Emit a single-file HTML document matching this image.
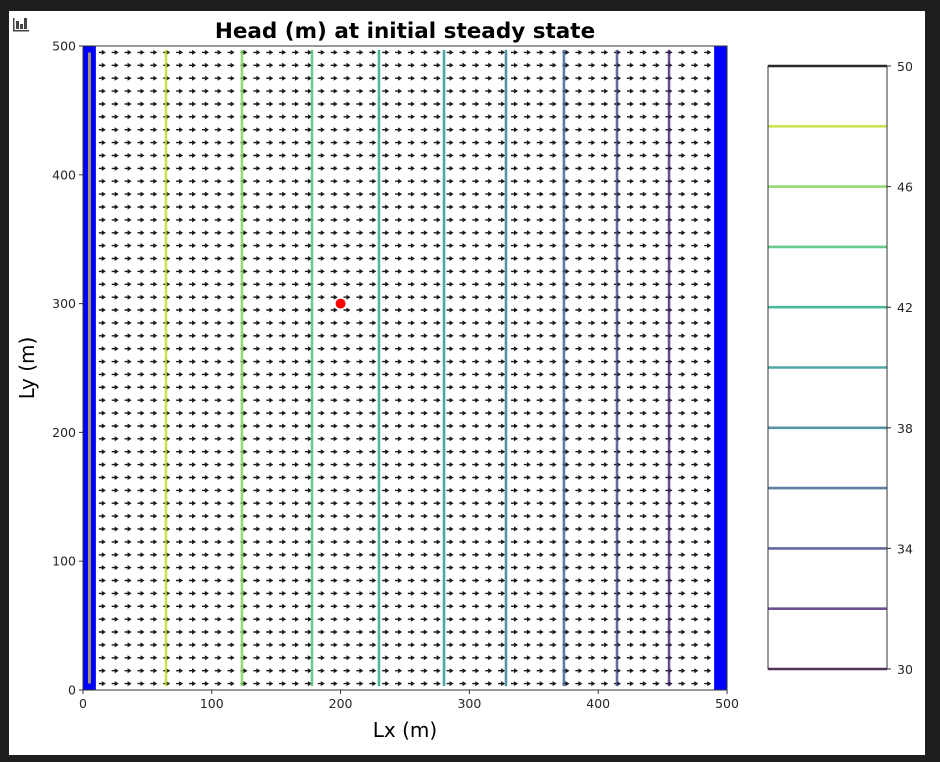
<!DOCTYPE html>
<html><head><meta charset="utf-8">
<style>
html,body{margin:0;padding:0;background:#1e1e1e;}
svg{display:block;font-family:"DejaVu Sans","Liberation Sans",sans-serif;}
</style></head>
<body>
<svg id="chart" width="940" height="762" viewBox="0 0 940 762">
<rect x="0" y="0" width="940" height="762" fill="#1e1e1e"/>
<rect x="9" y="11" width="916" height="744" fill="#ffffff"/>
<g fill="#444">
<rect x="13" y="18" width="1.5" height="13"/><rect x="13" y="30" width="16" height="1.5"/>
<rect x="16" y="21" width="3" height="8"/><rect x="20" y="24" width="3" height="5"/><rect x="24" y="18" width="3" height="11"/>
</g>
<text x="405" y="38" text-anchor="middle" font-size="21.5" font-weight="bold" fill="#000">Head (m) at initial steady state</text>
<g id="plot"></g>
<g id="cbar"></g>
<text x="405" y="737" text-anchor="middle" font-size="20" fill="#000">Lx (m)</text>
<text x="0" y="0" transform="translate(34,368) rotate(-90)" text-anchor="middle" font-size="20" fill="#000">Ly (m)</text>
</svg>
<script>
const xTicks=[0,100,200,300,400,500];
const yTicks=[0,100,200,300,400,500];
const levels=[32,34,36,38,40,42,44,46,48];
const contourX=[455,414.6,373.4,328.4,280.3,229.8,177.8,123.4,64.4];
const cbarLevels=[30,32,34,36,38,40,42,44,46,48,50];
const cbarTicks=[30,34,38,42,46,50];
const wellPoint=[200,300];
const nCols=50, nRows=50, cellSize=10;
const flowU=1; // uniform eastward flow

const NS="http://www.w3.org/2000/svg";
const X0=83,X1=727,Y0=690,Y1=46;
const sx=v=>X0+(v-0)/500*(X1-X0);
const sy=v=>Y0-(v-0)/500*(Y0-Y1);
const CB={x0:768,x1:887,y0:669,y1:66,vmin:30,vmax:50};
const cby=v=>CB.y0-(v-CB.vmin)/(CB.vmax-CB.vmin)*(CB.y0-CB.y1);
const vir=["#440154","#482475","#414487","#355f8d","#2a788e","#21918c","#22a884","#44bf70","#7ad151","#bddf26","#fde725"];
const color=v=>vir[Math.max(0,Math.min(10,Math.round((v-30)/2)))];
function el(tag,attrs,parent){const e=document.createElementNS(NS,tag);for(const k in attrs)e.setAttribute(k,attrs[k]);parent.appendChild(e);return e;}
const plot=document.getElementById('plot');
const cbar=document.getElementById('cbar');

let b1=el('rect',{x:sx(0),y:Y1,width:sx(10)-sx(0),height:Y0-Y1,fill:'#0000ff'},plot);


let b2=el('rect',{x:sx(490),y:Y1,width:sx(500)-sx(490),height:Y0-Y1,fill:'#0000ff'},plot);



let q=el('g',{fill:'#1a1a1a'},plot);


let d="";
for(let c=1;c<nCols-1;c++){for(let r=0;r<nRows;r++){
  const cx=sx((c+0.5)*cellSize), cy=sy((r+0.5)*cellSize);
  const L=7*flowU;
  const xs=cx-L/2, xe=cx+L/2;
  d+=`M${xs.toFixed(1)} ${(cy-0.7).toFixed(1)}H${(xe-4).toFixed(1)}V${(cy-2.5).toFixed(1)}L${xe.toFixed(1)} ${cy.toFixed(1)}L${(xe-4).toFixed(1)} ${(cy+2.5).toFixed(1)}V${(cy+0.7).toFixed(1)}H${xs.toFixed(1)}Z`;
}}
let qp=el('path',{d:d,stroke:'none'},q);



let tan=el('line',{x1:sx(5),x2:sx(5),y1:sy(495),y2:sy(5),stroke:'#a89470','stroke-width':3},plot);


levels.forEach((lv,i)=>{
  let l=el('line',{x1:sx(contourX[i]),x2:sx(contourX[i]),y1:sy(497),y2:sy(3),stroke:color(lv),'stroke-width':2.6,'stroke-opacity':0.8},plot);
  
  
});

let w=el('circle',{cx:sx(wellPoint[0]),cy:sy(wellPoint[1]),r:5,fill:'#ff0000'},plot);



let fr=el('rect',{x:X0,y:Y1,width:X1-X0,height:Y0-Y1,fill:'none',stroke:'#333','stroke-width':1},plot);


xTicks.forEach(t=>{
  el('line',{x1:sx(t),x2:sx(t),y1:Y0,y2:Y0+4,stroke:'#333'},plot);
  let tx=el('text',{x:sx(t),y:Y0+18,'text-anchor':'middle','font-size':12.5,fill:'#262626'},plot);
  tx.textContent=t;
  
  
});
yTicks.forEach(t=>{
  el('line',{x1:X0-4,x2:X0,y1:sy(t),y2:sy(t),stroke:'#333'},plot);
  let tx=el('text',{x:X0-7,y:sy(t)+4.5,'text-anchor':'end','font-size':12.5,fill:'#262626'},plot);
  tx.textContent=t;
  
  
});

cbarLevels.forEach(lv=>{
  let l=el('line',{x1:CB.x0,x2:CB.x1,y1:cby(lv),y2:cby(lv),stroke:lv===50?'#222':color(lv),'stroke-width':2.6,'stroke-opacity':lv===50?1:0.8},cbar);
  
  
});
let cf=el('rect',{x:CB.x0,y:CB.y1,width:CB.x1-CB.x0,height:CB.y0-CB.y1,fill:'none',stroke:'#333'},cbar);


cbarTicks.forEach(t=>{
  el('line',{x1:CB.x1,x2:CB.x1+4,y1:cby(t),y2:cby(t),stroke:'#333'},cbar);
  let tx=el('text',{x:CB.x1+10,y:cby(t)+5,'font-size':12.5,fill:'#262626'},cbar);
  tx.textContent=t;
  
  
});
</script>
</body></html>
